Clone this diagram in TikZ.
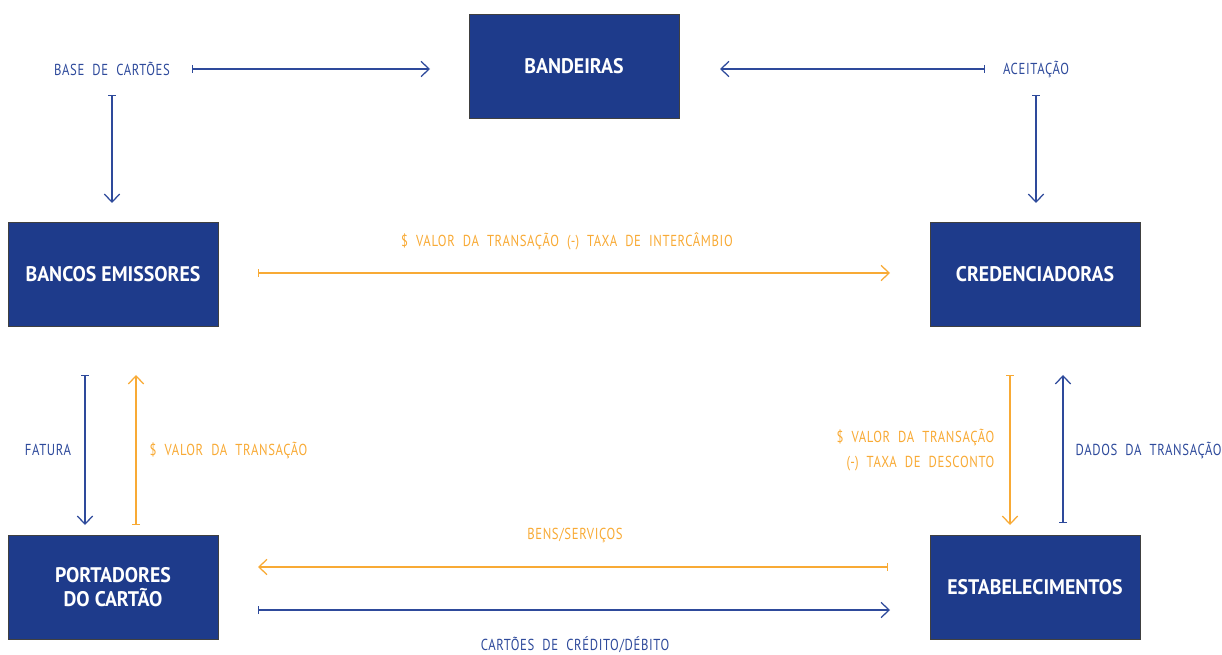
\documentclass[tikz,border=0pt]{standalone}
\usepackage{fontspec}
\newfontfamily\boxfont{PT Sans}[FakeStretch=0.94]
\newfontfamily\tagfont{PT Sans}[FakeStretch=0.8,LetterSpace=4,WordSpace=2.0]
\usetikzlibrary{arrows.meta,positioning}
\definecolor{navy}{HTML}{1E3B8B}
\definecolor{lineblue}{HTML}{2E4A9B}
\definecolor{amber}{HTML}{F8AA35}
\tikzset{party/.style={draw=black!75,line width=0.6pt,fill=navy,text=white,align=center,font=\boxfont\bfseries\fontsize{15}{17}\selectfont,minimum width=5.25cm,minimum height=2.6cm,inner sep=0pt}, tag/.style={font=\tagfont\fontsize{11.3}{17.5}\selectfont,inner sep=1pt}, bluetag/.style={tag,text=lineblue}, ambertag/.style={tag,text=amber}, flow/.style={{Bar[width=2mm]}-{Straight Barb[length=2mm,width=3.8mm]},line width=0.9pt}, blueflow/.style={flow,draw=lineblue}, amberflow/.style={flow,draw=amber}}

\begin{document}
\begin{tikzpicture}[x=0.025cm,y=-0.025cm]
\useasboundingbox (0,0) rectangle (1222,655);
% parties
\node[party](band) at (574,66){BANDEIRAS};\node[party](banc) at (113,274){BANCOS EMISSORES};\node[party](cred) at (1035,274){CREDENCIADORAS};\node[party](port) at (113,587){PORTADORES\\DO CARTÃO};\node[party](estab) at (1035,587){ESTABELECIMENTOS};
% labels
\node[bluetag](base) at (112,69){BASE DE CARTÕES};\node[bluetag](aceit) at (1036,69){ACEITAÇÃO};
\node[ambertag](interc) at (567,241){\$ VALOR DA TRANSAÇÃO (-) TAXA DE INTERCÂMBIO};
\node[bluetag](fat) at (48,450){FATURA};\node[ambertag,anchor=west](valor) at (148,450){\$ VALOR DA TRANSAÇÃO};
\node[ambertag,anchor=east,align=right](desc) at (996,450){\$ VALOR DA TRANSAÇÃO\\(-) TAXA DE DESCONTO};\node[bluetag,anchor=west](dados) at (1074,450){DADOS DA TRANSAÇÃO};
\node[ambertag](bens) at (575,535){BENS/SERVIÇOS};\node[bluetag](cart) at (575,645){CARTÕES DE CRÉDITO/DÉBITO};
% flow ends
\coordinate(p1) at (192,69);\coordinate(q1) at (430,69);\coordinate(p2) at (985,69);\coordinate(q2) at (720,69);
\coordinate(p3) at (112,95);\coordinate(q3) at (112,203);\coordinate(p4) at (1036,95);\coordinate(q4) at (1036,203);
\coordinate(p5) at (85,375);\coordinate(q5) at (85,525);\coordinate(p6) at (1063,523);\coordinate(q6) at (1063,375);
\coordinate(p7) at (258,610);\coordinate(q7) at (890,610);
\coordinate(r1) at (258,273);\coordinate(s1) at (890,273);\coordinate(r2) at (136,525);\coordinate(s2) at (136,375);
\coordinate(r3) at (1010,375);\coordinate(s3) at (1010,525);\coordinate(r4) at (888,567);\coordinate(s4) at (258,567);
\foreach \x/\y in {p1/q1,p2/q2,p3/q3,p4/q4,p5/q5,p6/q6,p7/q7}{\draw[blueflow](\x)--(\y);}
\foreach \x/\y in {r1/s1,r2/s2,r3/s3,r4/s4}{\draw[amberflow](\x)--(\y);}
\end{tikzpicture}
\end{document}
